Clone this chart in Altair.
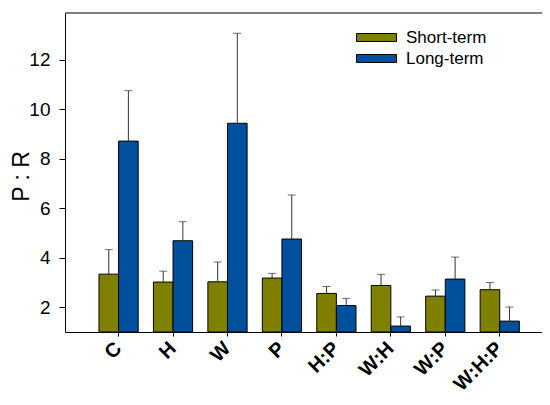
import altair as alt
import pandas as pd

categories = ["C", "H", "W", "P", "H:P", "W:H", "W:P", "W:H:P"]
terms = ["Short-term", "Long-term"]
short_vals = [3.34, 3.02, 3.03, 3.18, 2.56, 2.88, 2.45, 2.71]
short_err = [0.99, 0.44, 0.80, 0.19, 0.28, 0.45, 0.25, 0.29]
long_vals = [8.72, 4.69, 9.44, 4.76, 2.07, 1.24, 3.14, 1.44]
long_err = [2.04, 0.77, 3.64, 1.78, 0.29, 0.37, 0.89, 0.57]
colors = ["#808000", "#00509E"]

rows = []
for i, c in enumerate(categories):
    rows.append({"cat": c, "term": terms[0], "val": short_vals[i], "hi": short_vals[i] + short_err[i]})
    rows.append({"cat": c, "term": terms[1], "val": long_vals[i], "hi": long_vals[i] + long_err[i]})
df = pd.DataFrame(rows)

W, H = 477, 319
FONT = "Liberation Sans"

xenc = alt.X("cat:N", sort=categories,
             scale=alt.Scale(paddingInner=0.28, paddingOuter=0.52, align=0.6),
             axis=alt.Axis(title=None, labelAngle=-45, labelAlign="right", labelBaseline="middle",
                           labelFontWeight="bold", labelFontSize=20, labelFont=FONT, labelColor="black",
                           labelPadding=9, tickSize=4, tickColor="black", domainColor="black",
                           labelOverlap=False))
yscale = alt.Scale(domain=[1, 13.9], nice=False, zero=False)
xoff = alt.XOffset("term:N", sort=terms, scale=alt.Scale(paddingInner=0, paddingOuter=0))

base = alt.Chart(df)

bars = base.mark_bar(stroke="black", strokeWidth=1).encode(
    x=xenc,
    xOffset=xoff,
    y=alt.Y("val:Q", scale=yscale,
            axis=alt.Axis(title="P : R", values=[2, 4, 6, 8, 10, 12], grid=False,
                          labelFontSize=19, labelFont=FONT, labelColor="black", labelPadding=9,
                          tickSize=6, tickColor="black", domainColor="black",
                          titleFontSize=23, titleFont=FONT, titleFontWeight="normal",
                          titleColor="black", titleX=-37, titleY=163, titleAngle=-90,
                          titleBaseline="alphabetic", titleAlign="center")),
    y2=alt.datum(1),
    color=alt.Color("term:N", sort=terms, scale=alt.Scale(domain=terms, range=colors),
                    legend=alt.Legend(title=None, orient="none", legendX=301, legendY=14,
                                      symbolType="M-2,-0.4H2V0.4H-2Z", symbolSize=400,
                                      symbolStrokeColor="black", symbolStrokeWidth=1,
                                      labelFontSize=17, labelFont=FONT, labelColor="black",
                                      labelOffset=19, rowPadding=2, padding=0)),
)

err = base.mark_rule(color="#333333", strokeWidth=1).encode(
    x=alt.X("cat:N", sort=categories), xOffset=xoff,
    y=alt.Y("val:Q", scale=yscale), y2="hi:Q",
)
caps = base.mark_tick(color="#333333", thickness=1, size=8, orient="horizontal").encode(
    x=alt.X("cat:N", sort=categories), xOffset=xoff,
    y=alt.Y("hi:Q", scale=yscale),
)
top = alt.Chart(pd.DataFrame({"a": [0]})).mark_rule(color="black", strokeWidth=1).encode(
    x=alt.value(0), x2=alt.value(W), y=alt.value(0)
)

chart = alt.layer(bars, err, caps, top).properties(
    width=W, height=H,
    autosize=alt.AutoSizeParams(type="none"),
    padding={"left": 57, "top": 5, "right": 0, "bottom": 65},
).configure_view(stroke=None).configure_axis(grid=False)

chart.save("out.html", embed_options={"renderer": "svg", "actions": False})
